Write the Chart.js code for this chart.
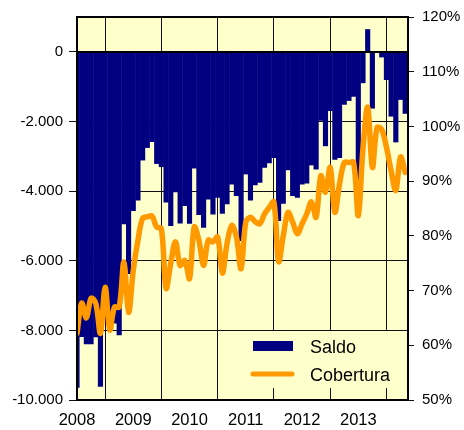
<!DOCTYPE html>
<html><head><meta charset="utf-8">
<script src="https://cdn.jsdelivr.net/npm/chart.js@4.4.1/dist/chart.umd.min.js"></script>
<style>html,body{margin:0;padding:0;background:#fff;}</style>
</head><body>
<canvas id="c" width="464" height="430"></canvas>
<script>
// Monthly categories (Jan 2008 - Nov 2013)
const categories = [
 '2008-01','2008-02','2008-03','2008-04','2008-05','2008-06','2008-07','2008-08','2008-09','2008-10','2008-11','2008-12',
 '2009-01','2009-02','2009-03','2009-04','2009-05','2009-06','2009-07','2009-08','2009-09','2009-10','2009-11','2009-12',
 '2010-01','2010-02','2010-03','2010-04','2010-05','2010-06','2010-07','2010-08','2010-09','2010-10','2010-11','2010-12',
 '2011-01','2011-02','2011-03','2011-04','2011-05','2011-06','2011-07','2011-08','2011-09','2011-10','2011-11','2011-12',
 '2012-01','2012-02','2012-03','2012-04','2012-05','2012-06','2012-07','2012-08','2012-09','2012-10','2012-11','2012-12',
 '2013-01','2013-02','2013-03','2013-04','2013-05','2013-06','2013-07','2013-08','2013-09','2013-10','2013-11'
];
// Saldo (left axis)
const saldo = [
 -9650,-8190,-8400,-8400,-8200,-9620,-7600,-7900,-7800,-8140,-4950,-6380,
 -4570,-4270,-3120,-2760,-2590,-3220,-3310,-4330,-5000,-4030,-4930,-4430,
 -4940,-3350,-4690,-5050,-4240,-4670,-4190,-4650,-4380,-3810,-4140,-5430,
 -3520,-4270,-3830,-3760,-3330,-3200,-3050,-4860,-4360,-3400,-4140,-4190,
 -3810,-3780,-3260,-3380,-1980,-2710,-1700,-3100,-3050,-1520,-1410,-1290,
 -3800,-900,650,-1630,-20,-160,-810,-1860,-2600,-1380,-1780
];
// Cobertura % (right axis)
const cobertura = [
 62.2,67.7,65.0,68.6,67.7,62.2,70.6,62.8,67.0,67.0,75.2,66.0,
 73.7,79.2,83.2,83.5,83.6,81.6,81.3,70.4,75.0,78.9,74.6,75.5,
 72.2,81.6,79.2,74.6,79.2,78.9,79.8,73.2,78.6,81.9,79.8,74.0,
 82.5,83.4,82.6,82.2,84.0,85.2,86.2,75.3,80.0,84.3,82.5,80.4,
 82.2,84.0,86.2,83.4,91.0,88.0,92.5,84.3,89.5,93.4,93.4,93.4,
 83.7,96.0,103.5,92.5,99.8,99.4,96.2,91.9,88.3,94.4,91.6
];
const leftTicks = [-10000,-8000,-6000,-4000,-2000,0];
const rightTicks = [50,60,70,80,90,100,110,120];
const seriesNames = ['Saldo','Cobertura'];

const NAVY = '#000080', ORANGE = '#FF9900', PALE = '#FFFFCC';
const FONT = 'Liberation Sans, Arial, sans-serif';

function fmtThousands(v){
  const s = Math.abs(v).toString().replace(/\B(?=(\d{3})+(?!\d))/g,'.');
  return (v < 0 ? '-' : '') + s;
}
const yearTickIdx = categories.map((c,i)=>c.endsWith('-01') ? i : -1).filter(i=>i>=0);

const bgPlugin = {
  id:'bg',
  beforeDraw(chart){
    const {ctx, chartArea:a} = chart;
    ctx.save(); ctx.fillStyle = PALE;
    ctx.fillRect(a.left, a.top, a.right-a.left, a.bottom-a.top);
    ctx.restore();
  }
};
const framePlugin = {
  id:'frame',
  afterDatasetsDraw(chart){
    const {ctx, chartArea:a, scales} = chart;
    ctx.save();
    ctx.strokeStyle = '#000';
    ctx.lineWidth = 2;
    const y0 = Math.round(scales.y.getPixelForValue(0));
    ctx.beginPath(); ctx.moveTo(a.left, y0); ctx.lineTo(a.right, y0); ctx.stroke();
    ctx.strokeRect(a.left, a.top, a.right-a.left, a.bottom-a.top);
    ctx.restore();
  }
};
const legendPlugin = {
  id:'legendBox',
  afterDraw(chart){
    const {ctx, chartArea:a, scales} = chart;
    const top = Math.round(scales.y.getPixelForValue(-8000)) + 1;
    const left = a.right - 164;
    ctx.save();
    ctx.fillStyle = PALE;
    ctx.fillRect(left, top, a.right - 1 - left, 57);
    ctx.fillStyle = NAVY;
    ctx.fillRect(left + 9, top + 10, 40, 10);
    ctx.strokeStyle = ORANGE; ctx.lineWidth = 5; ctx.lineCap = 'round';
    ctx.beginPath(); ctx.moveTo(left + 9, top + 43); ctx.lineTo(left + 48, top + 43); ctx.stroke();
    ctx.fillStyle = '#000';
    ctx.font = '18px ' + FONT;
    ctx.textBaseline = 'alphabetic';
    ctx.fillText(seriesNames[0], left + 66, top + 21.5);
    ctx.fillText(seriesNames[1], left + 66, top + 49.5);
    ctx.restore();
  }
};

new Chart(document.getElementById('c'), {
  type:'bar',
  data:{
    datasets:[
      {
        type:'line', label:seriesNames[1], yAxisID:'y2', order:0,
        data: cobertura.map((v,i)=>({x:i, y:v})),
        borderColor: ORANGE, borderWidth:5.5, pointRadius:0, tension:0.35,
        borderJoinStyle:'round', borderCapStyle:'round', fill:false
      },
      {
        type:'bar', label:seriesNames[0], yAxisID:'y', order:1,
        data: saldo.map((v,i)=>({x:i, y:v})),
        backgroundColor: NAVY, borderWidth:0,
        barPercentage:1.1, categoryPercentage:1, inflateAmount:0
      }
    ]
  },
  options:{
    responsive:false, animation:false, devicePixelRatio:1,
    layout:{padding:{top:16, left:0, right:0, bottom:0}},
    plugins:{legend:{display:false}, tooltip:{enabled:false}},
    scales:{
      x:{
        type:'linear', min:0, max:70.6, offset:false,
        afterBuildTicks(s){ s.ticks = yearTickIdx.map(v=>({value:v})); },
        afterFit(s){ s.height = 30; },
        ticks:{ autoSkip:false, maxRotation:0, padding:11, color:'#000',
          font:{family:FONT, size:16.5},
          callback:(v)=>categories[v] ? categories[v].slice(0,4) : '' },
        grid:{ color:'#111', lineWidth:1, drawTicks:false },
        border:{display:false}
      },
      y:{
        position:'left', min:-10000, max:1000,
        afterBuildTicks(s){ s.ticks = leftTicks.map(v=>({value:v})); },
        afterFit(s){ s.width = 77; },
        ticks:{ padding:6, color:'#000', font:{family:FONT, size:15},
          callback:(v)=>fmtThousands(v) },
        grid:{ color:'#111', lineWidth:1, drawTicks:true, tickLength:8 },
        border:{display:false}
      },
      y2:{
        position:'right', min:50, max:120,
        afterBuildTicks(s){ s.ticks = rightTicks.map(v=>({value:v})); },
        afterFit(s){ s.width = 56; },
        ticks:{ padding:8, color:'#000', font:{family:FONT, size:15},
          callback:(v)=>v + '%' },
        grid:{ drawOnChartArea:false, color:'#111', lineWidth:1, drawTicks:true, tickLength:6 },
        border:{display:false}
      }
    }
  },
  plugins:[bgPlugin, framePlugin, legendPlugin]
});
</script>
</body></html>
